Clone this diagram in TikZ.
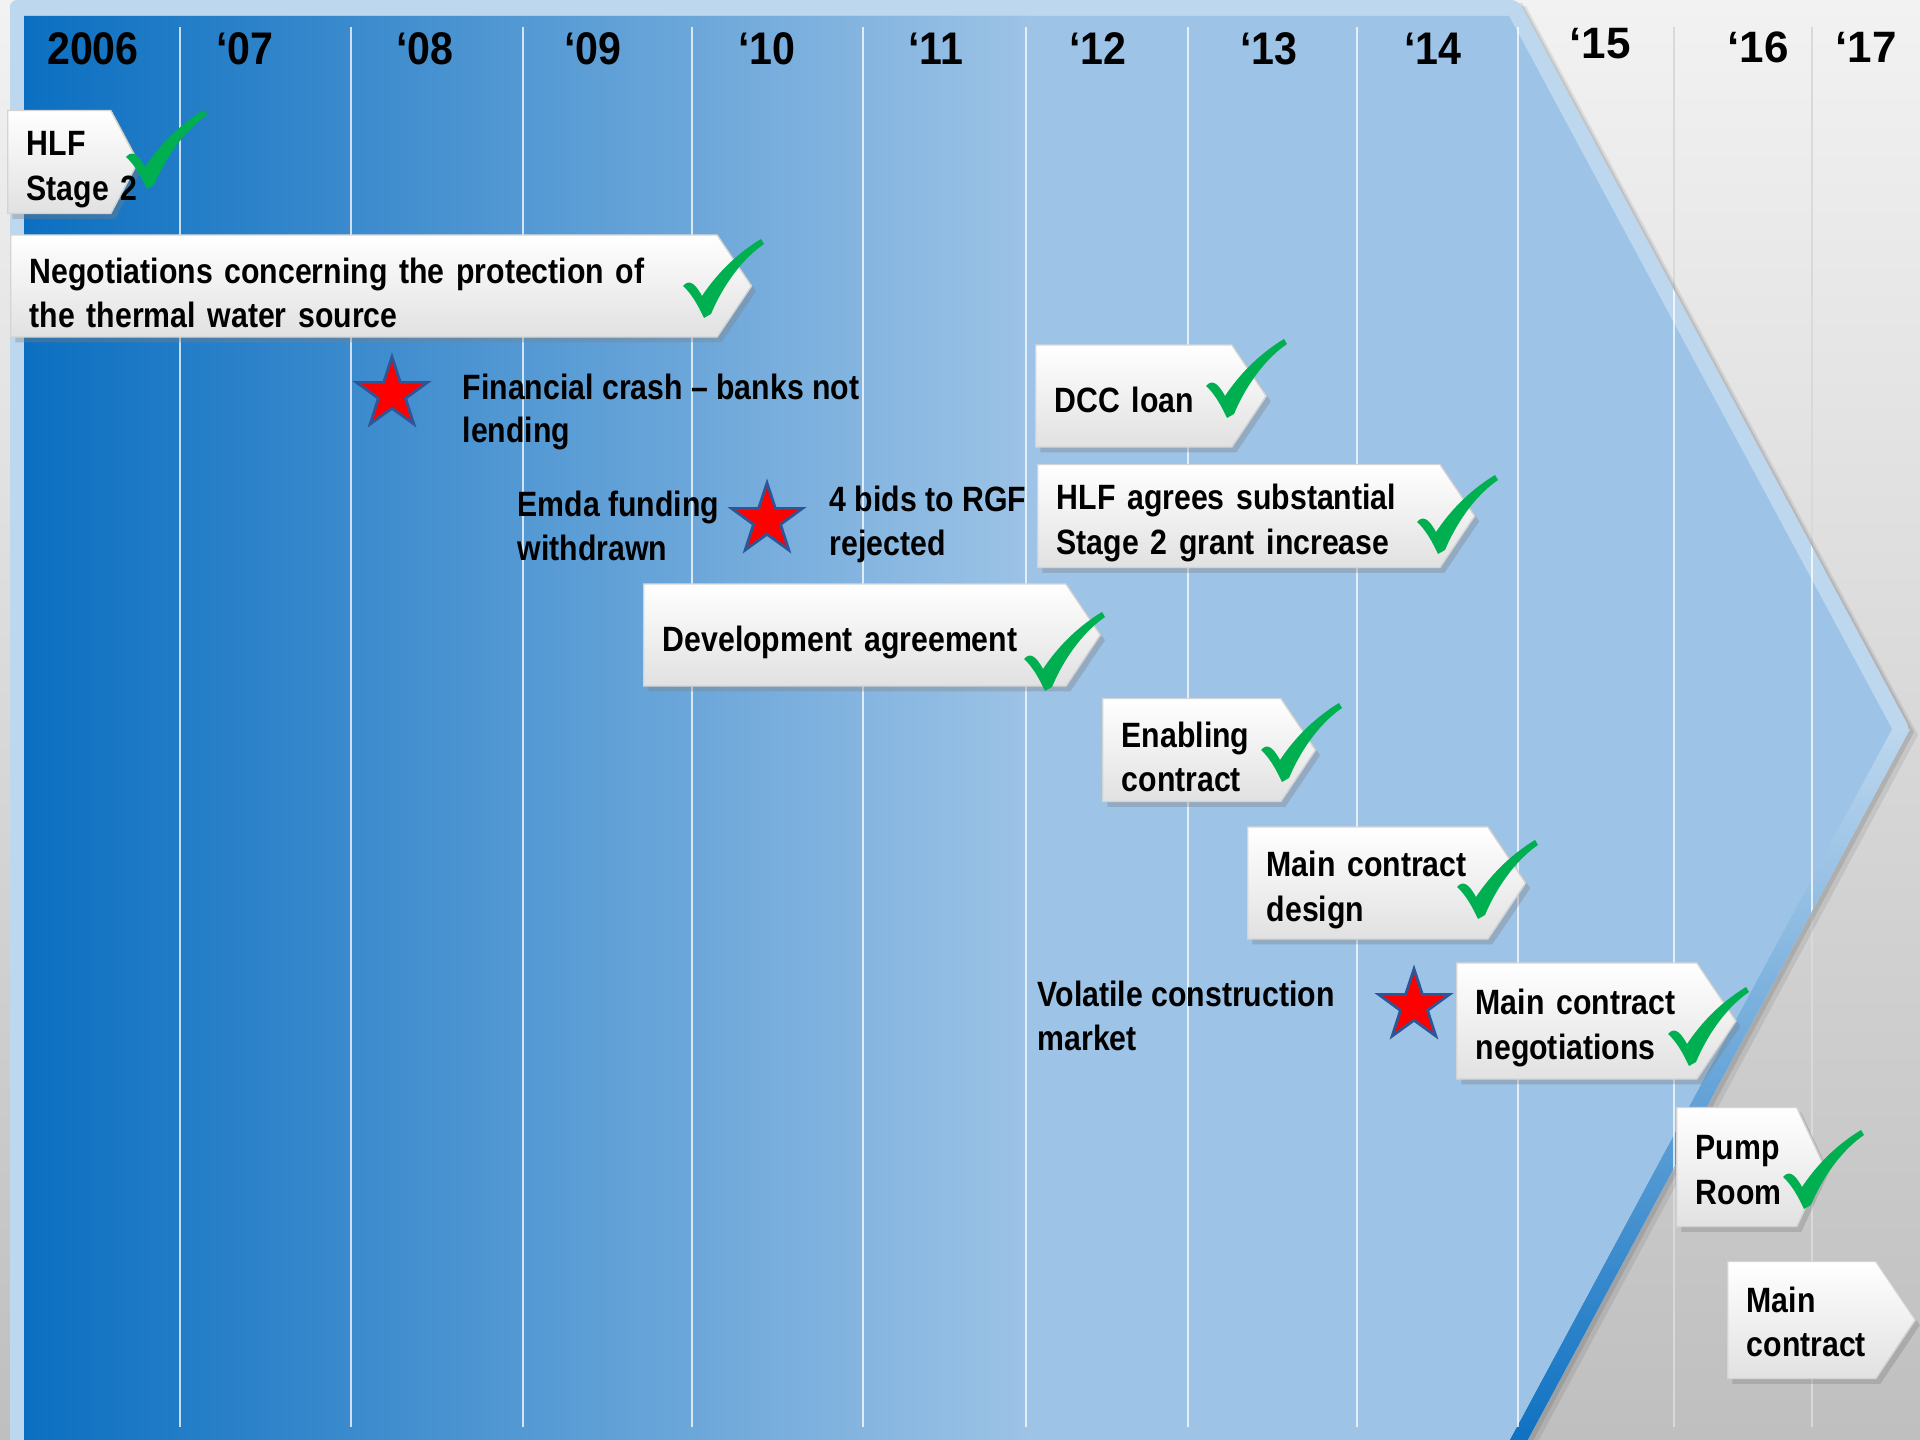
\documentclass[tikz,border=0pt]{standalone}
\usepackage{fontspec}
\setmainfont{Liberation Sans}
\newfontfamily\narrowfont[FakeStretch=0.86]{Liberation Sans}
\newfontfamily\yearfont[FakeStretch=0.9]{Liberation Sans}
\usetikzlibrary{shapes.symbols,shapes.geometric,shadows}

\definecolor{bgtop}{HTML}{F2F2F2}
\definecolor{bgmid}{HTML}{ECECEC}
\definecolor{bgbottom}{HTML}{BFBFBF}
\definecolor{rimblue}{HTML}{BDD7EE}
\definecolor{darkblue}{HTML}{0B6FC1}
\definecolor{midblue}{HTML}{5B9BD5}
\definecolor{paleblue}{HTML}{9DC3E6}
\definecolor{tickgreen}{HTML}{00B050}
\definecolor{starred}{HTML}{FF0000}
\definecolor{starrim}{HTML}{2F5597}
\definecolor{boxgray}{HTML}{E1E1E1}
\definecolor{boxline}{HTML}{D4D4D4}
\definecolor{gridgray}{HTML}{D9D9D9}

\tikzset{
  milestone/.style={shape=signal, signal to=east, signal from=nowhere,
    signal pointer angle=112, draw=boxline, line width=0.4pt,
    top color=white, bottom color=boxgray,
    drop shadow={shadow xshift=1.3pt, shadow yshift=-1.5pt, opacity=0.35},
    inner xsep=0.19cm, inner ysep=0pt, align=left, anchor=west, text height=11.3pt,
    font=\narrowfont\bfseries\fontsize{10}{12.6}\selectfont},
  note/.style={align=left, anchor=west, inner sep=0pt,
    font=\narrowfont\bfseries\fontsize{10}{12.5}\selectfont},
  year/.style={inner sep=0pt, font=\yearfont\bfseries\fontsize{13}{15}\selectfont},
  wideyear/.style={inner sep=0pt, font=\bfseries\fontsize{12.5}{15}\selectfont},
  setback/.style={star, star points=5, star point ratio=2.6, minimum size=0.74cm,
    inner sep=0pt, fill=starred, draw=starrim, line width=0.8pt},
  tick/.pic={
    \fill[tickgreen] (0,47) .. controls (5,41) and (11,42) .. (19,57)
      .. controls (35,33) and (55,14) .. (78,0) -- (81,5)
      .. controls (62,18) and (42,42) .. (28,75) -- (21,79)
      .. controls (15,66) and (8,54) .. cycle;
  }
}

\begin{document}
\begin{tikzpicture}[x=0.01cm, y=-0.01cm]
  \clip (0,0) rectangle (1920,1440);
  % background and grid
  \shade[top color=bgtop, middle color=bgmid, bottom color=bgbottom] (0,0) rectangle (1920,1440);
  \foreach \x in {180,351,523,692,863,1026,1188,1357,1518,1674,1812}
    \draw[gridgray, line width=0.6pt] (\x,27) -- (\x,1427);

  % big arrow
  \fill[black, opacity=0.08, shift={(8,6)}] (10,0) -- (1518,0) -- (1910,729) -- (1518,1458) -- (10,1458) -- cycle;
  \fill[black, opacity=0.10, shift={(4,3)}] (10,0) -- (1518,0) -- (1910,729) -- (1518,1458) -- (10,1458) -- cycle;
  \fill[rimblue, rounded corners=2pt] (10,1458) -- (10,0) -- (1518,0) -- (1910,729) -- (1518,1458) -- cycle;
  \shade[top color=rimblue, middle color=midblue, bottom color=darkblue]
    (1910,729) -- (1518,1458) -- (1500,1458) -- (1892,729) -- cycle;
  \begin{scope}
    \clip (24,16) -- (1509,16) -- (1892,729) -- (1500,1458) -- (24,1458) -- cycle;
    \fill[paleblue] (0,0) rectangle (1920,1440);
    \shade[left color=darkblue, right color=paleblue] (24,0) rectangle (1030,1440);
  \end{scope}
  \begin{scope}
    \clip (10,0) -- (1518,0) -- (1910,729) -- (1518,1458) -- (10,1458) -- cycle;
    \foreach \x in {180,351,523,692,863,1026,1188,1357,1518,1674,1812}
      \draw[white, opacity=0.75, line width=0.6pt] (\x,27) -- (\x,1427);
  \end{scope}

  % years
  \foreach \x/\t [count=\i] in {93/2006, 245/‘07, 425/‘08, 593/‘09, 767/‘10, 936/‘11, 1098/‘12, 1269/‘13, 1433/‘14}
    \node[year] (year\i) at (\x,49) {\t};
  \node[wideyear] (year10) at (1600,44) {‘15};
  \node[wideyear] (year11) at (1758,47) {‘16};
  \node[wideyear] (year12) at (1866,47) {‘17};

  % milestones
  \node[milestone, signal pointer angle=124, text width=0.65cm, minimum height=1.03cm] (hlf) at (7,162) {HLF\\\mbox{Stage 2}};
  \node[milestone, text width=6.68cm, minimum height=1.02cm] (thermal) at (10,286) {Negotiations concerning the protection of\\the thermal water source};
  \node[milestone, text width=1.58cm, minimum height=1.02cm, text height=9.3pt] (dcc) at (1035,396) {DCC loan};
  \node[milestone, text width=3.64cm, minimum height=1.03cm] (grant) at (1037,516) {HLF agrees substantial\\Stage 2 grant increase};
  \node[milestone, text width=3.84cm, minimum height=1.02cm] (devagree) at (643,635) {Development agreement};
  \node[milestone, text width=1.40cm, minimum height=1.03cm] (enabling) at (1102,750) {Enabling\\contract};
  \node[milestone, text width=2.02cm, minimum height=1.12cm] (design) at (1247,883) {Main contract\\design};
  \node[milestone, text width=2.02cm, minimum height=1.16cm] (negot) at (1456,1021) {Main contract\\negotiations};
  \node[milestone, signal pointer angle=130, text width=0.82cm, minimum height=1.19cm, text height=8.6pt] (pump) at (1676,1167) {Pump\\Room};
  \node[milestone, text width=1.10cm, minimum height=1.17cm, text height=8.3pt] (maincon) at (1727,1320) {Main\\contract};

  % setbacks
  \node[setback] (crash) at (392,394) {};
  \node[note] (crashtext) at (462,412) {Financial crash – banks not\\lending};
  \node[setback] (emda) at (767,520) {};
  \node[note] (emdatext) at (517,526) {Emda funding\\withdrawn};
  \node[note] (rgftext) at (829,524) {4 bids to RGF\\rejected};
  \node[setback] (market) at (1414,1006) {};
  \node[note] (markettext) at (1037,1016) {Volatile construction\\market};

  % ticks
  \foreach \x/\y in {126/110, 683/239, 1206/339, 1417/475, 1024/612, 1261/703, 1457/840, 1668/987, 1783/1130}
    \pic at (\x,\y) {tick};
\end{tikzpicture}
\end{document}
